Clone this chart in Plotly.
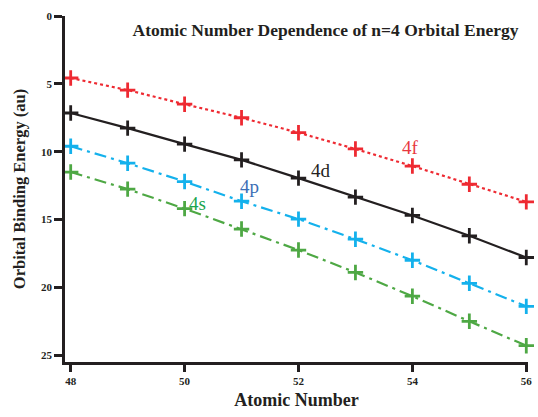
import plotly.graph_objects as go

atomic_number = [48, 49, 50, 51, 52, 53, 54, 55, 56]
e_4f = [4.57, 5.46, 6.5, 7.5, 8.6, 9.8, 11.06, 12.4, 13.7]
e_4d = [7.15, 8.26, 9.44, 10.6, 11.95, 13.35, 14.7, 16.2, 17.8]
e_4p = [9.6, 10.85, 12.2, 13.65, 14.97, 16.45, 18.0, 19.7, 21.4]
e_4s = [11.5, 12.76, 14.2, 15.7, 17.25, 18.9, 20.65, 22.5, 24.3]

SERIF = "Liberation Serif, Times New Roman, Times, serif"

series = [
    ("4f", e_4f, "#ee2a32", "dot", "#e8383f"),
    ("4d", e_4d, "#231f20", "solid", "#231f20"),
    ("4p", e_4p, "#14b1ec", "dashdot", "#3b6eb5"),
    ("4s", e_4s, "#4ea844", "dashdot", "#1aa550"),
]
label_pos = {"4f": (53.96, 9.7), "4d": (52.39, 11.35), "4p": (51.14, 12.6), "4s": (50.23, 13.8)}

fig = go.Figure()
for name, vals, col, dash, lcol in series:
    fig.add_trace(go.Scatter(
        x=atomic_number, y=vals, mode="lines+markers", name=name,
        line=dict(color=col, width=2.2, dash=dash if dash != "dashdot" else "12px,5px,3px,5px"),
        marker=dict(symbol="cross-thin", size=11, line=dict(color=col, width=2.8), color=col),
        showlegend=False, cliponaxis=False,
    ))
    lx, ly = label_pos[name]
    fig.add_annotation(x=lx, y=ly, text=name, showarrow=False,
                       font=dict(family=SERIF, size=19, color=lcol),
                       xanchor="center", yanchor="middle")

fig.update_layout(
    width=538, height=417,
    margin=dict(l=65, r=6, t=16, b=55),
    paper_bgcolor="white", plot_bgcolor="white",
    font=dict(family=SERIF),
    title=dict(text="<b>Atomic Number Dependence of n=4 Orbital Energy</b>",
               x=0.605, xanchor="center", y=0.928, yanchor="middle",
               font=dict(family=SERIF, size=17.5, color="#231f20")),
    xaxis=dict(range=[47.9, 56.03], tickvals=[48, 50, 52, 54, 56],
               showgrid=False, zeroline=False, showline=True, linecolor="#231f20", linewidth=2.5,
               ticks="outside", ticklen=7, tickwidth=2.5, tickcolor="#231f20",
               tickfont=dict(family=SERIF, size=11, color="#231f20", weight="bold"),
               title=dict(text="<b>Atomic Number</b>", standoff=8,
                          font=dict(family=SERIF, size=18, color="#231f20"))),
    yaxis=dict(range=[25.5, 0], tickvals=[0, 5, 10, 15, 20, 25],
               showgrid=False, zeroline=False, showline=True, linecolor="#231f20", linewidth=2.5,
               ticks="outside", ticklen=8, tickwidth=2.5, tickcolor="#231f20",
               tickfont=dict(family=SERIF, size=11, color="#231f20", weight="bold"),
               title=dict(text="<b>Orbital Binding Energy (au)</b>", standoff=12,
                          font=dict(family=SERIF, size=16.5, color="#231f20"))),
)

fig.write_html("out.html")
